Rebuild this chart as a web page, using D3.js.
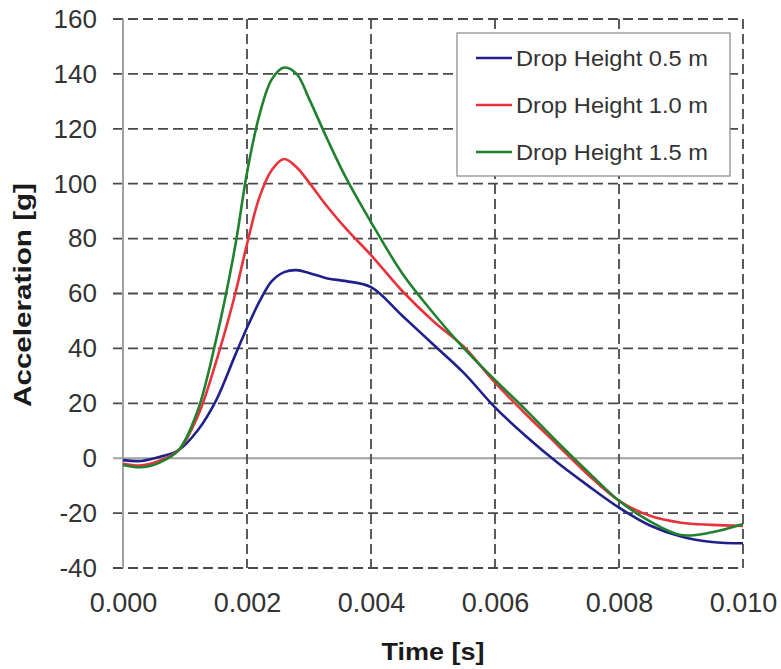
<!DOCTYPE html>
<html>
<head>
<meta charset="utf-8">
<script src="https://cdn.jsdelivr.net/npm/d3@7"></script>
<style>
  body { margin: 0; background: #fff; }
  svg { font-family: "Liberation Sans", Arial, sans-serif; }
  .tick text { fill: #333; }
  .axisTitle { font-weight: bold; fill: #1a1a1a; }
</style>
</head>
<body>
<div class="chart"></div>
<script>
var timeValues = [0, 0.0003, 0.0006, 0.0009, 0.0012, 0.0015, 0.0018, 0.002, 0.0022, 0.0024, 0.0026, 0.0028, 0.003, 0.0033, 0.0036, 0.004, 0.0045, 0.005, 0.0055, 0.006, 0.0065, 0.007, 0.0075, 0.008, 0.0085, 0.009, 0.0095, 0.010];
var drop05 = [-0.7, -1, 0.5, 3, 10, 21, 37, 47.5, 57, 64.5, 67.8, 68.5, 67.5, 65.5, 64.5, 62.3, 52, 41.5, 31, 18.5, 8, -1.5, -10, -18, -24.5, -28.5, -30.5, -31];
var drop10 = [-2, -2.6, -0.8, 3, 15, 35, 59, 78, 95, 105, 109, 106, 100.5, 91.5, 83.5, 74, 61, 50, 40.5, 27.5, 16, 5, -6, -15.5, -21, -23.5, -24.3, -24.7];
var drop15 = [-2.5, -3.3, -1.5, 3, 17, 43, 76, 104, 125, 138, 142.3, 140, 131, 116, 102, 86, 67.5, 53, 40, 28.5, 17.5, 6, -5, -15.5, -23, -28, -27, -24];
var seriesNames = ["Drop Height 0.5 m", "Drop Height 1.0 m", "Drop Height 1.5 m"];
var seriesColors = ["#20208c", "#e8323c", "#21812f"];
var xTicks = [0, 0.002, 0.004, 0.006, 0.008, 0.010];
var yTicks = [-40, -20, 0, 20, 40, 60, 80, 100, 120, 140, 160];

var svgWidth = 781;
var svgHeight = 669;
var margin = { top: 19, right: 38, bottom: 101, left: 123 };
var width = svgWidth - margin.left - margin.right;
var height = svgHeight - margin.top - margin.bottom;

var svg = d3.select(".chart")
  .append("svg")
  .attr("width", svgWidth)
  .attr("height", svgHeight);

var chartGroup = svg.append("g")
  .attr("transform", `translate(${margin.left}, ${margin.top})`);

var x = d3.scaleLinear().domain([0, 0.010]).range([0, width]);
var y = d3.scaleLinear().domain([-40, 160]).range([height, 0]);

// grid lines
chartGroup.selectAll(".hgrid")
  .data(yTicks)
  .enter()
  .append("line")
  .attr("x1", -10)
  .attr("x2", width)
  .attr("y1", d => y(d))
  .attr("y2", d => y(d))
  .attr("stroke", d => d === 0 ? "#a0a0a0" : "#4a4a4a")
  .attr("stroke-width", d => d === 0 ? 2 : 1.8)
  .attr("stroke-dasharray", d => d === 0 ? null : "10,5");

chartGroup.selectAll(".vgrid")
  .data(xTicks.filter(d => d > 0))
  .enter()
  .append("line")
  .attr("x1", d => x(d))
  .attr("x2", d => x(d))
  .attr("y1", 0)
  .attr("y2", height)
  .attr("stroke", "#4a4a4a")
  .attr("stroke-width", 1.8)
  .attr("stroke-dasharray", "10,5");

chartGroup.append("line")
  .attr("x1", 0).attr("x2", 0)
  .attr("y1", 0).attr("y2", height)
  .attr("stroke", "#a0a0a0")
  .attr("stroke-width", 2);

// axes (labels only)
var leftAxis = d3.axisLeft(y).tickValues(yTicks).tickSize(0).tickPadding(26).tickFormat(d => String(d));
var bottomAxis = d3.axisBottom(x).tickValues(xTicks).tickSize(0).tickPadding(25).tickFormat(d => d.toFixed(3));

var yAxisG = chartGroup.append("g").call(leftAxis);
var xAxisG = chartGroup.append("g").attr("transform", `translate(0, ${height})`).call(bottomAxis);
yAxisG.select(".domain").remove();
xAxisG.select(".domain").remove();
yAxisG.selectAll("text").style("font-size", "26px").style("font-family", "'Liberation Sans', Arial, sans-serif");
xAxisG.selectAll("text").style("font-size", "27px").style("font-family", "'Liberation Sans', Arial, sans-serif");

// curves
var allSeries = [drop05, drop10, drop15];
var line = d3.line()
  .x((d, i) => x(timeValues[i]))
  .y(d => y(d))
  .curve(d3.curveCatmullRom.alpha(0.5));

chartGroup.selectAll(".curve")
  .data(allSeries)
  .enter()
  .append("path")
  .attr("d", d => line(d))
  .attr("fill", "none")
  .attr("stroke", (d, i) => seriesColors[i])
  .attr("stroke-width", 2.6);

// legend
var legend = svg.append("g").attr("transform", "translate(457, 33)");
legend.append("rect")
  .attr("width", 273)
  .attr("height", 143)
  .attr("fill", "#fff")
  .attr("stroke", "#888")
  .attr("stroke-width", 1.2);

var items = legend.selectAll(".item")
  .data(seriesNames)
  .enter()
  .append("g")
  .attr("transform", (d, i) => `translate(0, ${25 + i * 47})`);

items.append("line")
  .attr("x1", 19).attr("x2", 55)
  .attr("stroke", (d, i) => seriesColors[i])
  .attr("stroke-width", 2.6);

items.append("text")
  .attr("x", 59)
  .attr("dy", "0.36em")
  .attr("textLength", 192)
  .attr("lengthAdjust", "spacingAndGlyphs")
  .style("font-size", "22px")
  .style("fill", "#333")
  .text(d => d);

// axis titles
svg.append("text")
  .attr("class", "axisTitle")
  .attr("transform", "translate(31, 295) rotate(-90)")
  .attr("text-anchor", "middle")
  .attr("textLength", 224)
  .attr("lengthAdjust", "spacingAndGlyphs")
  .style("font-size", "24px")
  .text("Acceleration [g]");

svg.append("text")
  .attr("class", "axisTitle")
  .attr("x", 433)
  .attr("y", 660)
  .attr("text-anchor", "middle")
  .attr("textLength", 103)
  .attr("lengthAdjust", "spacingAndGlyphs")
  .style("font-size", "24px")
  .text("Time [s]");
</script>
</body>
</html>
